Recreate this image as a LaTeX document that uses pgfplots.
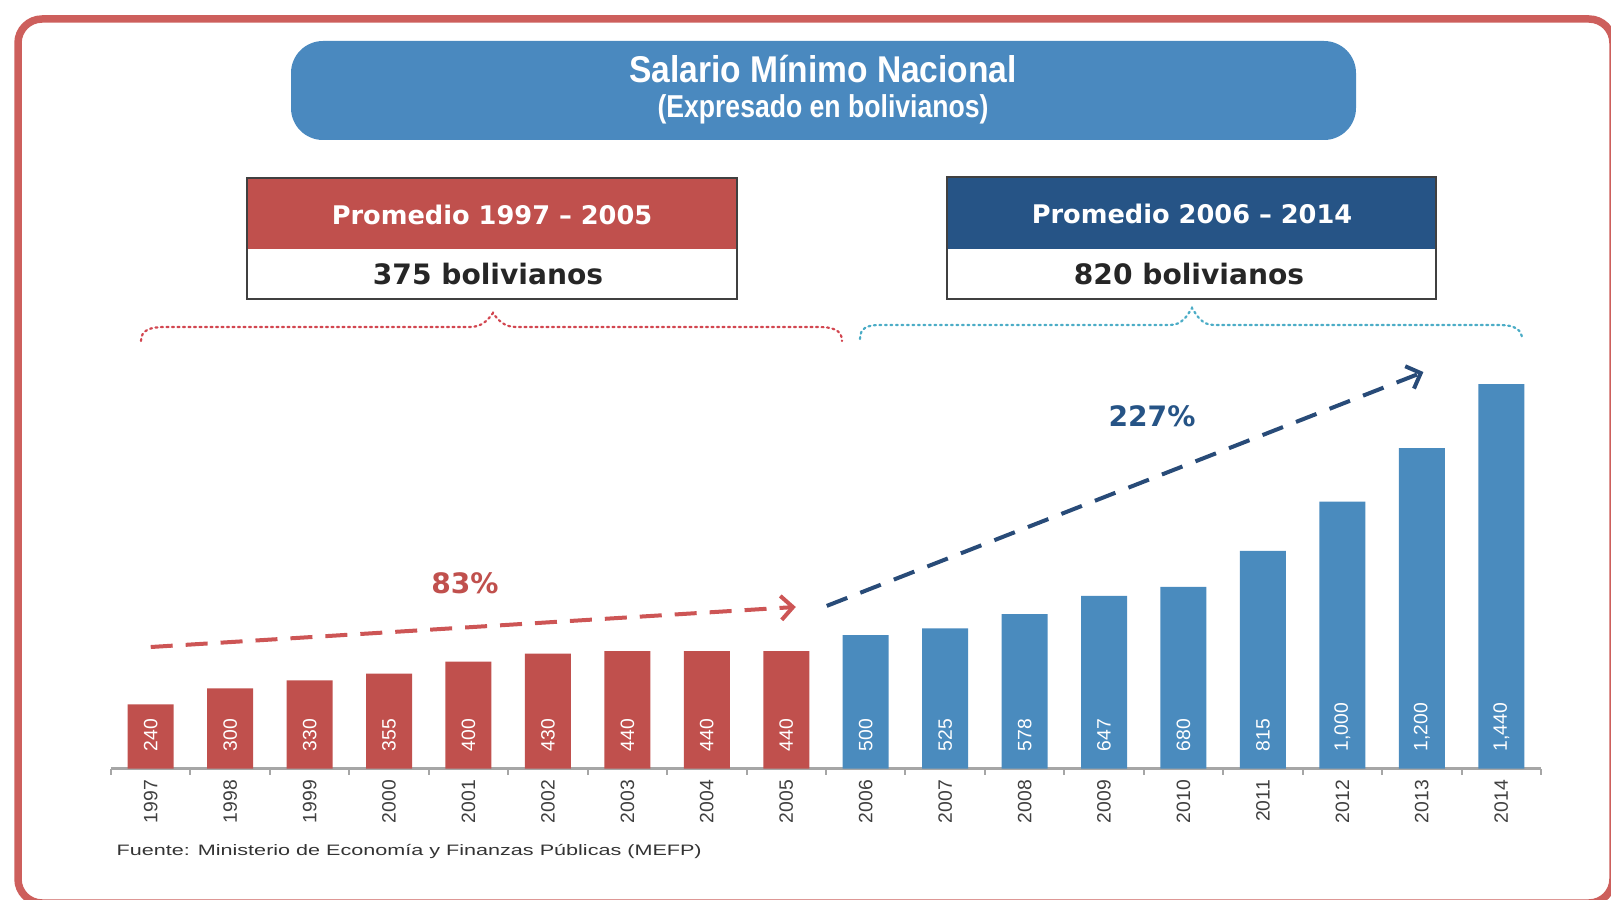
\documentclass[border=0pt]{standalone}
\usepackage{pgfplots}
\pgfplotsset{compat=1.18}
\usepackage{pgfplotstable}
\usepackage{fontspec}
\setmainfont{Liberation Sans}
\newfontfamily\dvs{DejaVu Sans}
\usetikzlibrary{arrows.meta}
\definecolor{brdred}{RGB}{205,95,92}
\definecolor{barred}{RGB}{192,80,77}
\definecolor{barblue}{RGB}{74,139,190}
\definecolor{titleblue}{RGB}{74,137,191}
\definecolor{hdrblue}{RGB}{38,84,134}
\definecolor{arrred}{RGB}{205,85,85}
\definecolor{arrblue}{RGB}{40,75,120}
\definecolor{dotred}{RGB}{210,70,80}
\definecolor{dotteal}{RGB}{75,172,198}

\pgfplotstableread{
x y base lab
0 240 62 240
1 300 62 300
2 330 62 330
3 355 62 355
4 400 62 400
5 430 62 430
6 440 62 440
7 440 62 440
8 440 62 440
}\redtab
\pgfplotstableread{
x y base lab
9 500 62 500
10 525 62 525
11 578 62 578
12 647 62 647
13 680 62 680
14 815 62 815
15 1000 62 1,000
16 1200 62 1,200
17 1440 62 1,440
}\bluetab

\begin{document}
\begin{tikzpicture}[x=0.1mm,y=-0.1mm]
\useasboundingbox (0,0) rectangle (1611,900);
\begin{scope}
\clip (0,0) rectangle (1611,900);
\draw[brdred, line width=0.75mm, rounded corners=2.4mm] (18,19) rectangle (1613,903);
\end{scope}

% title
\fill[titleblue, rounded corners=3.2mm] (291,41) rectangle (1356,140);
\node[white, anchor=base, inner sep=0] at (823,83) {\resizebox{3.88cm}{\height}{\fontsize{10.6}{12}\selectfont\bfseries Salario Mínimo Nacional}};
\node[white, anchor=base, inner sep=0] at (823,118) {\resizebox{3.31cm}{\height}{\fontsize{9}{10}\selectfont\bfseries (Expresado en bolivianos)}};

% boxes
\fill[barred] (247,178) rectangle (737,249);
\draw[black!75, line width=0.15mm] (247,178) rectangle (737,299);
\node[white, anchor=base, inner sep=0] at (492,225) {\dvs\bfseries\fontsize{7.3}{9}\selectfont Promedio 1997 – 2005};
\node[black!85, anchor=base, inner sep=0] at (488,285) {\dvs\bfseries\fontsize{8}{9}\selectfont 375 bolivianos};

\fill[hdrblue] (947,177) rectangle (1436,249);
\draw[black!75, line width=0.15mm] (947,177) rectangle (1436,299);
\node[white, anchor=base, inner sep=0] at (1192,224) {\dvs\bfseries\fontsize{7.3}{9}\selectfont Promedio 2006 – 2014};
\node[black!85, anchor=base, inner sep=0] at (1189,285) {\dvs\bfseries\fontsize{8}{9}\selectfont 820 bolivianos};

% braces
\draw[dotred, line width=0.22mm, dash pattern=on 0.2mm off 0.35mm, line cap=round]
 (141,341) .. controls (141,330) and (150,327) .. (165,327) -- (470,327)
 .. controls (482,327) and (488,320) .. (493,313)
 .. controls (498,320) and (504,327) .. (516,327) -- (818,327)
 .. controls (833,327) and (842,330) .. (842,341);
\draw[dotteal, line width=0.22mm, dash pattern=on 0.2mm off 0.35mm, line cap=round]
 (860,339) .. controls (860,328) and (867,325) .. (880,325) -- (1170,325)
 .. controls (1182,325) and (1187,316) .. (1192,308)
 .. controls (1197,316) and (1202,325) .. (1214,325) -- (1500,325)
 .. controls (1515,325) and (1522,330) .. (1522,339);

% percentages
\node[text=barred, inner sep=0] at (465,583) {\dvs\bfseries\fontsize{8}{9}\selectfont 83\%};
\node[text=hdrblue, inner sep=0] at (1152,416) {\dvs\bfseries\fontsize{8}{9}\selectfont 227\%};

% footnote
\node[anchor=west, text=black!80, inner sep=0] at (116,852) {\resizebox{5.85cm}{\height}{\fontsize{4.3}{5}\selectfont Fuente: Ministerio de Economía y Finanzas Públicas (MEFP)}};

\coordinate (axo) at (111,768.5);
\begin{axis}[
  at={(axo)}, anchor=south west,
  scale only axis, width=14.30cm, height=4.005cm,
  xmin=-0.5, xmax=17.5, ymin=0, ymax=1500,
  axis x line*=bottom, axis y line=none,
  xtick={-0.5,0.5,...,17.5}, x tick label as interval,
  xticklabels={1997,1998,1999,2000,2001,2002,2003,2004,2005,2006,2007,2008,2009,2010,2011,2012,2013,2014},
  tick align=outside, major tick length=0.6mm,
  tick style={gray!70, line width=0.2mm},
  axis line style={gray!70, line width=0.25mm},
  xticklabel shift=0.5mm,
  xticklabel style={rotate=90, anchor=east, inner sep=0pt, font=\fontsize{5.5}{6}\selectfont, text=black!75},
  clip=false,
]
\addplot[ybar, bar width=4.6mm, fill=barred, draw=none] table[x=x,y=y]{\redtab};
\addplot[ybar, bar width=4.6mm, fill=barblue, draw=none] table[x=x,y=y]{\bluetab};
\addplot[draw=none, mark=none, nodes near coords, point meta=explicit symbolic,
  every node near coord/.append style={rotate=90, anchor=west, inner sep=0pt, text=white, font=\fontsize{5.5}{6}\selectfont}]
  table[x=x, y=base, meta=lab]{\redtab};
\addplot[draw=none, mark=none, nodes near coords, point meta=explicit symbolic,
  every node near coord/.append style={rotate=90, anchor=west, inner sep=0pt, text=white, font=\fontsize{5.5}{6}\selectfont}]
  table[x=x, y=base, meta=lab]{\bluetab};
\draw[arrred, line width=0.4mm, dash pattern=on 2.2mm off 1.3mm, -{Straight Barb[length=1.2mm, width=2.4mm]}] (axis cs:0,455) -- (axis cs:8.12,605);
\draw[arrblue, line width=0.4mm, dash pattern=on 2.2mm off 1.4mm, -{Straight Barb[length=1.2mm, width=2.4mm]}] (axis cs:8.51,609) -- (axis cs:16.02,1485);
\end{axis}
\end{tikzpicture}
\end{document}
